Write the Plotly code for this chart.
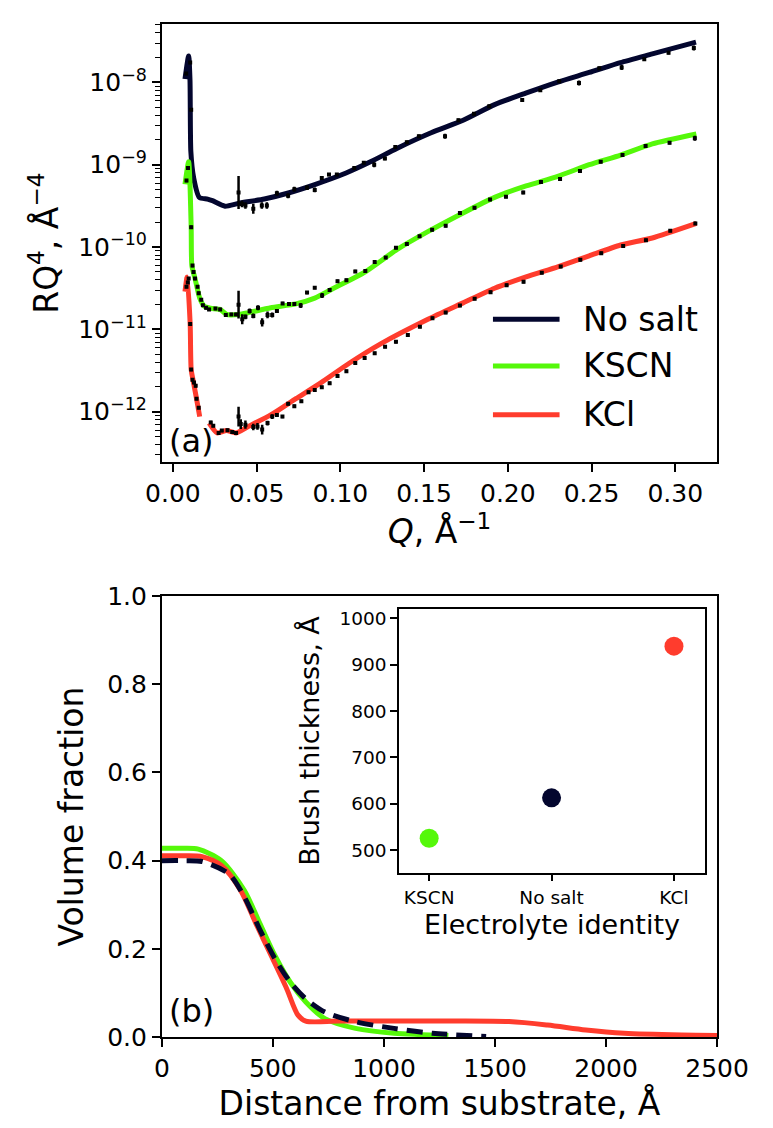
import plotly.graph_objects as go

# ---------------- Panel (a): RQ^4 fits (lines) ----------------
fit_noSalt_q = [0.0072, 0.0094, 0.0102, 0.0107, 0.0124, 0.0158, 0.0207, 0.0236, 0.0311, 0.0395, 0.0546,
                0.0678, 0.0847, 0.1034, 0.1186, 0.1337, 0.1542, 0.1733, 0.1921, 0.2107, 0.2298, 0.2486,
                0.2672, 0.2863, 0.3124]
fit_noSalt_r = [1.1e-8, 2.1e-8, 1.05e-8, 1.45e-9, 6.9e-10, 4.0e-10, 3.83e-10, 3.66e-10, 3.14e-10, 3.41e-10,
                3.83e-10, 4.47e-10, 5.75e-10, 7.94e-10, 1.1e-9, 1.58e-9, 2.45e-9, 3.47e-9, 5.37e-9, 7.41e-9,
                1.01e-8, 1.32e-8, 1.74e-8, 2.22e-8, 3.09e-8]

fit_kscn_q = [0.0072, 0.0094, 0.0109, 0.0113, 0.0132, 0.0160, 0.0188, 0.0245, 0.0282, 0.0320, 0.0395, 0.0452,
              0.0584, 0.0734, 0.0847, 0.0960, 0.1149, 0.1337, 0.1525, 0.1733, 0.1921, 0.2109, 0.2298, 0.2486,
              0.2674, 0.2863, 0.3126]
fit_kscn_r = [5.8e-10, 1.09e-9, 1.77e-10, 5.96e-11, 4.15e-11, 2.4e-11, 1.91e-11, 1.78e-11, 1.75e-11, 1.52e-11,
              1.52e-11, 1.6e-11, 1.83e-11, 2.04e-11, 2.4e-11, 3.16e-11, 5.01e-11, 9.3e-11, 1.55e-10,
              2.6e-10, 4.02e-10, 5.52e-10, 7.24e-10, 1.0e-9, 1.31e-9, 1.79e-9, 2.36e-9]

# None marks the short break in the KCl fit curve
fit_kcl_q = [0.0072, 0.0085, 0.0103, 0.0109, 0.0123, 0.0141, 0.0160, 0.0185, 0.0216, 0.0264, 0.0320, 0.0377,
             0.0452, 0.0584, 0.0734, 0.0885, 0.1055, 0.1243, 0.1520, 0.1733, 0.1921, 0.2109, 0.2298, 0.2486,
             0.2674, 0.2863, 0.3126]
fit_kcl_r = [2.88e-11, 4.34e-11, 1.16e-11, 3.25e-12, 2.26e-12, 1.44e-12, 8.73e-13, None, 7.28e-13,
             5.53e-13, 5.9e-13, 5.53e-13, 6.64e-13, 9.14e-13, 1.44e-12, 2.26e-12, 3.91e-12, 6.73e-12,
             1.32e-11, 2.1e-11, 3.16e-11, 4.34e-11, 5.75e-11, 7.82e-11, 1.06e-10, 1.29e-10, 1.94e-10]

# ---------------- Panel (a): measured data points ----------------
data_noSalt_q = [0.0079, 0.0103, 0.0109, 0.0392, 0.0412, 0.0433, 0.0480, 0.0531, 0.0561, 0.0621, 0.0688,
                 0.0725, 0.0801, 0.0847, 0.0889, 0.0932, 0.0979, 0.1083, 0.1140, 0.1202, 0.1266, 0.1328,
                 0.1397, 0.1469, 0.1625, 0.1705, 0.1798, 0.1889, 0.2086, 0.2194, 0.2307, 0.2425, 0.2546,
                 0.2680, 0.2815, 0.2960, 0.3111]
data_noSalt_r = [1.28e-8, 1.74e-8, 4.67e-9, 4.6e-10, 3.34e-10, 3.2e-10, 2.92e-10, 3.2e-10, 3.2e-10, 4.51e-10,
                 4.21e-10, 5.04e-10, 5.27e-10, 4.95e-10, 6.92e-10, 7.59e-10, 7.59e-10, 9.12e-10, 1.06e-9,
                 1.0e-9, 1.19e-9, 1.64e-9, 1.88e-9, 2.22e-9, 2.22e-9, 3.47e-9, 4.17e-9, 5.13e-9, 6.12e-9,
                 8.04e-9, 1.03e-8, 9.82e-9, 1.49e-8, 1.52e-8, 1.91e-8, 2.29e-8, 2.62e-8]
data_noSalt_err = [0.02, 0.02, 0.02, 0.2, 0.04, 0.04, 0.06, 0.04, 0.04, 0.03, 0.03, 0.03, 0.03, 0.03, 0.02,
                   0.02, 0.02, 0.02, 0.02, 0.03, 0.02, 0.02, 0.02, 0.02, 0.03, 0.02, 0.02, 0.02, 0.02, 0.02,
                   0.02, 0.03, 0.02, 0.03, 0.02, 0.02, 0.03]

data_kscn_q = [0.0081, 0.0090, 0.0109, 0.0117, 0.0123, 0.0132, 0.0147, 0.0154, 0.0169, 0.0179, 0.0198, 0.0216,
               0.0254, 0.0282, 0.0316, 0.0349, 0.0377, 0.0392, 0.0414, 0.0433, 0.0458, 0.0480, 0.0508, 0.0533,
               0.0565, 0.0593, 0.0621, 0.0655, 0.0693, 0.0725, 0.0763, 0.0801, 0.0847, 0.0891, 0.0936, 0.0983,
               0.1036, 0.1089, 0.1149, 0.1205, 0.1271, 0.1332, 0.1397, 0.1473, 0.1548, 0.1629, 0.1714, 0.1801,
               0.1894, 0.1989, 0.2092, 0.2198, 0.2312, 0.2431, 0.2555, 0.2685, 0.2823, 0.2966, 0.3117]
data_kscn_r = [6.43e-10, 9.1e-10, 1.74e-10, 5.96e-11, 4.97e-11, 4.15e-11, 3.3e-11, 2.75e-11, 2.3e-11,
               1.96e-11, 1.83e-11, 1.75e-11, 1.79e-11, 1.75e-11, 1.5e-11, 1.52e-11, 1.52e-11, 2.0e-11,
               1.33e-11, 1.42e-11, 1.67e-11, 1.46e-11, 1.83e-11, 1.22e-11, 1.5e-11, 1.5e-11, 1.67e-11,
               2.07e-11, 2.04e-11, 2.04e-11, 1.95e-11, 2.8e-11, 3.21e-11, 2.58e-11, 3.01e-11, 3.85e-11,
               3.96e-11, 5.06e-11, 5.11e-11, 6.61e-11, 7.46e-11, 9.82e-11, 1.09e-10, 1.35e-10, 1.62e-10,
               1.81e-10, 2.59e-10, 3.0e-10, 3.77e-10, 4.09e-10, 4.6e-10, 6.15e-10, 6.73e-10, 8.38e-10,
               1.09e-9, 1.31e-9, 1.69e-9, 1.85e-9, 2.1e-9]
data_kscn_err = [0.02, 0.02, 0.02, 0.02, 0.02, 0.02, 0.02, 0.02, 0.02, 0.02, 0.02, 0.02, 0.02, 0.02, 0.02,
                 0.02, 0.02, 0.17, 0.06, 0.03, 0.03, 0.03, 0.03, 0.05, 0.04, 0.03, 0.02, 0.02, 0.02, 0.02,
                 0.03, 0.02, 0.02, 0.03, 0.02, 0.02, 0.02, 0.02, 0.02, 0.02, 0.02, 0.02, 0.02, 0.02, 0.02,
                 0.02, 0.02, 0.02, 0.02, 0.02, 0.02, 0.02, 0.02, 0.02, 0.02, 0.02, 0.02, 0.02, 0.03]

data_kcl_q = [0.0081, 0.0089, 0.0094, 0.0103, 0.0109, 0.0117, 0.0126, 0.0136, 0.0141, 0.0154, 0.0226, 0.0241,
              0.0273, 0.0292, 0.0326, 0.0354, 0.0377, 0.0392, 0.0405, 0.0433, 0.0480, 0.0505, 0.0533, 0.0565,
              0.0593, 0.0621, 0.0654, 0.0688, 0.0725, 0.0767, 0.0810, 0.0847, 0.0889, 0.0936, 0.0983, 0.1036,
              0.1089, 0.1145, 0.1205, 0.1267, 0.1332, 0.1403, 0.1475, 0.1550, 0.1629, 0.1714, 0.1802, 0.1897,
              0.1993, 0.2094, 0.2203, 0.2316, 0.2433, 0.2558, 0.2689, 0.2825, 0.2970, 0.3120]
data_kcl_r = [3.3e-11, 3.72e-11, 4.15e-11, 1.16e-11, 3.25e-12, 2.44e-12, 2.26e-12, 2.07e-12, 1.44e-12,
              1.12e-12, 7.41e-13, 6.78e-13, 5.53e-13, 5.9e-13, 5.96e-13, 5.69e-13, 5.53e-13, 8.73e-13,
              7.08e-13, 6.97e-13, 6.52e-13, 6.64e-13, 6.07e-13, 7.28e-13, 8.73e-13, 9.14e-13, 8.73e-13,
              1.25e-12, 1.17e-12, 1.34e-12, 1.73e-12, 1.84e-12, 1.98e-12, 2.22e-12, 2.72e-12, 3.11e-12,
              3.91e-12, 4.48e-12, 5.13e-12, 6.17e-12, 7.06e-12, 8.53e-12, 1.08e-11, 1.37e-11, 1.6e-11,
              1.95e-11, 2.36e-11, 2.83e-11, 3.45e-11, 3.78e-11, 4.89e-11, 5.79e-11, 7.01e-11, 8.41e-11,
              1.03e-10, 1.21e-10, 1.58e-10, 1.94e-10]
data_kcl_err = [0.02, 0.02, 0.02, 0.02, 0.02, 0.02, 0.02, 0.02, 0.02, 0.02, 0.02, 0.02, 0.02, 0.02, 0.02,
                0.02, 0.02, 0.12, 0.06, 0.05, 0.04, 0.04, 0.06, 0.03, 0.03, 0.02, 0.02, 0.02, 0.02, 0.02,
                0.02, 0.02, 0.02, 0.02, 0.02, 0.02, 0.02, 0.02, 0.02, 0.02, 0.02, 0.02, 0.02, 0.02, 0.02,
                0.02, 0.02, 0.02, 0.02, 0.02, 0.02, 0.02, 0.02, 0.02, 0.02, 0.02, 0.02, 0.02]

# ---------------- Panel (b): volume fraction profiles ----------------
prof_noSalt_z = [0, 100, 181, 302, 371, 441, 510, 579, 648, 734, 872, 1045, 1218, 1460]
prof_noSalt_phi = [0.400, 0.400, 0.398, 0.370, 0.318, 0.244, 0.177, 0.124, 0.087, 0.057, 0.035, 0.020, 0.009, 0.0015]

prof_kscn_z = [0, 100, 164, 268, 371, 441, 510, 579, 648, 734, 872, 1045, 1290]
prof_kscn_phi = [0.428, 0.428, 0.426, 0.400, 0.333, 0.258, 0.184, 0.124, 0.080, 0.042, 0.020, 0.009, 0.004]

prof_kcl_z = [0, 100, 181, 268, 354, 423, 493, 562, 613, 648, 800, 1200, 1563, 1736, 1909, 2082, 2341, 2500]
prof_kcl_phi = [0.411, 0.411, 0.409, 0.389, 0.333, 0.258, 0.184, 0.110, 0.050, 0.0365, 0.0365, 0.0365,
                0.0355, 0.0276, 0.0164, 0.009, 0.005, 0.004]

# ---------------- Inset: brush thickness ----------------
electrolytes = ["KSCN", "No salt", "KCl"]
thickness = [526, 613, 940]

series_names = ["No salt", "KSCN", "KCl"]
colors = {"No salt": "#03062e", "KSCN": "#55f80a", "KCl": "#ff3c2d"}

FONT = "DejaVu Sans"
W, H = 773, 1128


def px_x(p):
    return p / W


def px_y(p):
    return 1 - p / H


fig = go.Figure()

fits = [("No salt", fit_noSalt_q, fit_noSalt_r), ("KSCN", fit_kscn_q, fit_kscn_r), ("KCl", fit_kcl_q, fit_kcl_r)]
for name, q, r in fits:
    fig.add_trace(go.Scatter(x=q, y=r, mode="lines", name=name, showlegend=False, connectgaps=False,
                             line=dict(color=colors[name], width=5, shape="spline", smoothing=0.6),
                             xaxis="x", yaxis="y"))

datas = [(data_noSalt_q, data_noSalt_r, data_noSalt_err),
         (data_kscn_q, data_kscn_r, data_kscn_err),
         (data_kcl_q, data_kcl_r, data_kcl_err)]
for q, r, e in datas:
    up = [v * (10 ** d - 1) for v, d in zip(r, e)]
    dn = [v * (1 - 10 ** (-d)) for v, d in zip(r, e)]
    fig.add_trace(go.Scatter(x=q, y=r, mode="markers", showlegend=False,
                             marker=dict(symbol="square", size=4, color="black"),
                             error_y=dict(type="data", array=up, arrayminus=dn, color="black",
                                          thickness=2.5, width=0),
                             xaxis="x", yaxis="y"))

profs = {"No salt": (prof_noSalt_z, prof_noSalt_phi, "16px,9px"),
         "KSCN": (prof_kscn_z, prof_kscn_phi, "solid"),
         "KCl": (prof_kcl_z, prof_kcl_phi, "solid")}
for name in ["KSCN", "KCl", "No salt"]:
    z, phi, dash = profs[name]
    fig.add_trace(go.Scatter(x=z, y=phi, mode="lines", showlegend=False,
                             line=dict(color=colors[name], width=5, dash=dash, shape="spline", smoothing=0.8),
                             xaxis="x2", yaxis="y2"))

fig.add_trace(go.Scatter(x=electrolytes, y=thickness, mode="markers", showlegend=False,
                         marker=dict(size=19, color=[colors[e] for e in electrolytes]),
                         xaxis="x3", yaxis="y3"))

axis_common = dict(showline=True, linecolor="black", linewidth=1.8, mirror=True, ticks="outside",
                   ticklen=8, tickwidth=1.8, tickcolor="black", showgrid=False, zeroline=False,
                   tickfont=dict(family=FONT, size=25, color="black"))

top_dom = [px_y(452), px_y(2)]
bot_dom = [px_y(1042), px_y(589)]
x_dom = [px_x(147), px_x(739)]

fig.update_layout(
    width=W, height=H, margin=dict(l=0, r=0, t=0, b=0),
    paper_bgcolor="white", plot_bgcolor="white",
    font=dict(family=FONT, color="black"),
    xaxis=dict(axis_common, domain=x_dom, anchor="y", range=[-0.0066, 0.325],
               tickvals=[0, 0.05, 0.1, 0.15, 0.2, 0.25, 0.3],
               ticktext=["0.00", "0.05", "0.10", "0.15", "0.20", "0.25", "0.30"],
               title=dict(text="<i>Q</i>, Å<sup>−1</sup>", font=dict(family=FONT, size=33), standoff=6)),
    yaxis=dict(axis_common, domain=top_dom, anchor="x", type="log", range=[-12.615, -7.29],
               tickvals=[1e-12, 1e-11, 1e-10, 1e-9, 1e-8],
               ticktext=["10<sup>−12</sup>", "10<sup>−11</sup>", "10<sup>−10</sup>", "10<sup>−9</sup>", "10<sup>−8</sup>"],
               minor=dict(tickvals=[m * 10.0 ** k for k in range(-13, -7) for m in range(2, 10)],
                          ticks="outside", ticklen=4.5, tickwidth=1.3, tickcolor="black", showgrid=False),
               title=dict(text="RQ<sup>4</sup>, Å<sup>−4</sup>", font=dict(family=FONT, size=33), standoff=10)),
    xaxis2=dict(axis_common, domain=x_dom, anchor="y2", range=[0, 2500],
                tickvals=[0, 500, 1000, 1500, 2000, 2500],
                title=dict(text="Distance from substrate, Å", font=dict(family=FONT, size=33), standoff=8)),
    yaxis2=dict(axis_common, domain=bot_dom, anchor="x2", range=[0, 1],
                tickvals=[0, 0.2, 0.4, 0.6, 0.8, 1.0], ticktext=["0.0", "0.2", "0.4", "0.6", "0.8", "1.0"],
                title=dict(text="Volume fraction", font=dict(family=FONT, size=33), standoff=14)),
    xaxis3=dict(axis_common, domain=[px_x(400), px_x(726)], anchor="y3", range=[-0.245, 2.253],
                type="category", ticklen=7, tickfont=dict(family=FONT, size=18.5, color="black"),
                title=dict(text="Electrolyte identity", font=dict(family=FONT, size=27), standoff=8)),
    yaxis3=dict(axis_common, domain=[px_y(873), px_y(603)], anchor="x3", range=[452, 1019],
                ticklen=7, tickvals=[500, 600, 700, 800, 900, 1000],
                tickfont=dict(family=FONT, size=18.5, color="black"),
                title=dict(text="Brush thickness, Å", font=dict(family=FONT, size=27), standoff=12)),
)

# Legend keys + labels inside panel (a)
legend_rows = [305, 353, 403]
for name, yrow in zip(series_names, legend_rows):
    fig.add_shape(type="line", xref="paper", yref="paper", x0=px_x(500), x1=px_x(571),
                  y0=px_y(yrow), y1=px_y(yrow), line=dict(color=colors[name], width=5))
    fig.add_annotation(xref="paper", yref="paper", x=px_x(594), y=px_y(yrow), text=name, showarrow=False,
                       xanchor="left", yanchor="middle", font=dict(family=FONT, size=33, color="black"))

fig.add_annotation(xref="paper", yref="paper", x=px_x(152), y=px_y(430), text="(a)", showarrow=False,
                   xanchor="left", yanchor="middle", font=dict(family=FONT, size=32, color="black"))
fig.add_annotation(xref="paper", yref="paper", x=px_x(152), y=px_y(1015), text="(b)", showarrow=False,
                   xanchor="left", yanchor="middle", font=dict(family=FONT, size=32, color="black"))

fig.write_html("out.html")
